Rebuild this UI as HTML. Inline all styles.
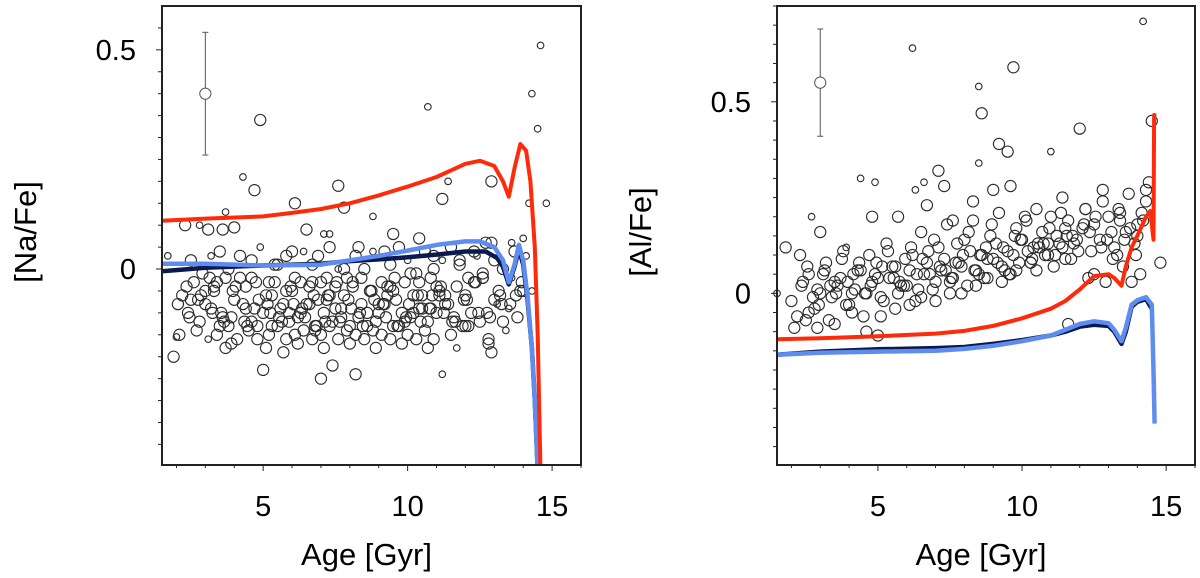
<!DOCTYPE html>
<html><head><meta charset="utf-8"><style>
html,body{margin:0;padding:0;background:#fff;}
svg{display:block;font-family:"Liberation Sans",Arial,sans-serif;}
</style></head><body>
<svg id="c" width="1200" height="578" viewBox="0 0 1200 578"></svg>
<script>
// ---------- data ----------
const xTicks=[5,10,15];
const naTickVals=[0,0.5];
const alTickVals=[0,0.5];
// model curves (left: Na)
const naRedAge=[1.5,3,5,6,7,8,9,10,11,11.5,12,12.5,13,13.3,13.5,13.7,13.9,14.1,14.25,14.4,14.5,14.6];
const naRedVal=[0.11,0.115,0.12,0.128,0.137,0.15,0.168,0.188,0.21,0.225,0.24,0.247,0.235,0.2,0.165,0.23,0.285,0.27,0.2,0.05,-0.15,-0.46];
const naBlueAge=[1.5,3,5,7,8,9,10,11,12,12.5,13,13.3,13.5,13.7,13.85,14.0,14.15,14.3,14.4,14.5];
const naBlueVal=[0.012,0.012,0.008,0.01,0.02,0.03,0.042,0.055,0.063,0.063,0.05,0.02,-0.03,0.01,0.055,0.02,-0.06,-0.18,-0.3,-0.46];
const naNavyAge=[1.5,3,5,7,8,9,10,11,12,12.7,13.1,13.3,13.5,13.7,13.85,14.0,14.15,14.3,14.4,14.5];
const naNavyVal=[-0.005,0.003,0.008,0.012,0.018,0.022,0.027,0.033,0.04,0.04,0.025,0.005,-0.035,0.005,0.045,0.01,-0.07,-0.18,-0.3,-0.46];
// model curves (right: Al)
const alRedAge=[1.5,3,5,7,8,9,10,11,11.5,12,12.5,13,13.2,13.45,13.6,13.8,14.0,14.3,14.45,14.56,14.58,14.6];
const alRedVal=[-0.12,-0.117,-0.112,-0.105,-0.098,-0.085,-0.065,-0.04,-0.02,0.01,0.045,0.05,0.04,0.02,0.07,0.12,0.15,0.2,0.215,0.14,0.46,0.47];
const alBlueAge=[1.5,3,5,7,8,9,10,11,11.5,12,12.5,13,13.2,13.45,13.6,13.8,14.0,14.3,14.5,14.56,14.6];
const alBlueVal=[-0.16,-0.155,-0.152,-0.15,-0.145,-0.137,-0.125,-0.11,-0.095,-0.08,-0.073,-0.078,-0.095,-0.125,-0.09,-0.03,-0.018,-0.01,-0.03,-0.2,-0.34];
const alNavyAge=[1.5,3,5,7,8,9,10,11,11.5,12,12.5,13,13.2,13.45,13.6,13.8,14.0,14.3,14.5];
const alNavyVal=[-0.16,-0.152,-0.146,-0.143,-0.14,-0.132,-0.122,-0.11,-0.1,-0.087,-0.082,-0.085,-0.1,-0.132,-0.1,-0.035,-0.022,-0.015,-0.04];
// error bars [age, value, lo, hi]
const naErr=[3.0,0.40,0.26,0.54];
const alErr=[3.0,0.55,0.41,0.69];
// stars: age, value, size (1 big, 0 small)
const naAge=[14.6,14.3,14.5,10.7,4.9,11.4,12.9,11.2,4.3,4.7,7.6,6.1,7.8,14.2,14.8,8.8,3.7,2.3,2.8,3.1,3.6,4.0,7.1,7.3,6.5,9.5,10.4,12.9,13.6,14.0,
1.9,2.0,3.7,3.9,5.0,7.0,7.4,8.2,11.2,12.9,12.8,11.7,
1.7,2.5,2.9,3.2,3.5,3.8,4.2,4.6,4.9,5.2,5.5,5.8,6.1,6.4,6.7,7.0,7.3,7.6,7.9,8.2,8.5,8.8,9.1,9.4,9.7,10.0,10.3,10.6,10.9,11.2,11.5,11.8,12.1,12.4,12.7,13.0,13.3,13.7,14.1,
2.2,2.6,3.0,3.3,3.7,4.0,4.4,4.7,5.1,5.4,5.7,6.0,6.3,6.6,6.9,7.2,7.5,7.8,8.1,8.4,8.7,9.0,9.3,9.6,9.9,10.2,10.5,10.8,11.1,11.4,11.7,12.0,12.3,12.6,13.2,13.6,14.0,
2.4,2.8,3.2,3.5,3.9,4.3,4.6,5.0,5.3,5.6,5.9,6.2,6.5,6.8,7.1,7.4,7.7,8.0,8.3,8.6,8.9,9.2,9.5,9.8,10.1,10.4,10.7,11.0,11.3,11.6,12.2,12.5,13.0,13.5,13.9,
2.1,2.7,3.1,3.4,3.8,4.1,4.5,4.8,5.2,5.5,5.8,6.1,6.4,6.7,7.0,7.3,7.6,7.9,8.2,8.5,8.8,9.1,9.4,9.7,10.0,10.3,10.6,10.9,11.5,12.0,12.8,13.4,
2.5,3.0,3.6,4.2,4.8,5.3,5.9,6.3,6.8,7.2,7.7,8.1,8.6,9.0,9.5,9.9,10.4,10.8,11.3,12.1,12.6,13.1,13.8,
3.3,4.4,5.1,5.7,6.2,6.6,7.1,7.5,8.0,8.4,8.9,9.3,9.8,10.2,10.7,11.1,11.9,13.3,14.3,
2.35,2.75,3.15,3.55,3.95,4.35,4.75,5.15,5.55,5.95,6.35,6.75,7.15,7.55,7.95,8.35,8.75,9.15,9.55,9.95,10.35,10.75,11.15,11.55,11.95,12.35,12.75,13.15,13.55,13.95,
2.05,2.45,2.85,3.25,3.65,4.05,4.45,4.85,5.25,5.65,6.05,6.45,6.85,7.25,7.65,8.05,8.45,8.85,9.25,9.65,10.05,10.45,10.85,11.25,11.65,12.05,12.45,12.85,13.25,13.75,
4.6,5.4,6.0,6.9,7.8,8.3,9.2,10.1,10.9,11.8,12.3,3.4,5.8,6.7,7.3,8.7,9.4,10.5,11.0,12.6];
const naVal=[0.51,0.40,0.32,0.37,0.34,0.20,0.20,0.16,0.21,0.18,0.19,0.15,0.14,0.15,0.15,0.12,0.13,0.10,0.10,0.09,0.09,0.095,0.08,0.08,0.09,0.08,0.07,0.06,0.06,0.07,
-0.20,-0.155,-0.18,-0.17,-0.23,-0.25,-0.22,-0.24,-0.24,-0.19,-0.16,-0.18,
0.03,0.02,-0.01,0.03,0.04,0.0,0.03,-0.02,0.05,-0.03,0.01,0.03,-0.02,0.04,0.01,-0.03,0.05,0.0,-0.02,0.03,0.0,0.04,-0.03,0.01,0.05,0.02,-0.01,0.04,0.0,0.02,0.05,0.01,-0.02,0.03,0.06,0.02,0.0,0.04,0.03,
-0.06,-0.03,-0.08,-0.05,-0.02,-0.07,-0.04,-0.09,-0.06,-0.03,-0.08,-0.05,-0.1,-0.04,-0.07,-0.02,-0.09,-0.06,-0.03,-0.08,-0.05,-0.1,-0.04,-0.07,-0.03,-0.06,-0.09,-0.02,-0.05,-0.08,-0.04,-0.06,-0.03,-0.01,-0.06,-0.02,-0.05,
-0.1,-0.12,-0.09,-0.13,-0.11,-0.08,-0.12,-0.1,-0.13,-0.09,-0.12,-0.11,-0.08,-0.13,-0.1,-0.12,-0.09,-0.13,-0.11,-0.1,-0.12,-0.08,-0.13,-0.1,-0.11,-0.09,-0.12,-0.1,-0.08,-0.11,-0.1,-0.12,-0.07,-0.09,-0.05,
-0.15,-0.14,-0.16,-0.15,-0.13,-0.16,-0.14,-0.16,-0.15,-0.13,-0.16,-0.15,-0.14,-0.16,-0.15,-0.13,-0.16,-0.14,-0.15,-0.16,-0.14,-0.15,-0.16,-0.13,-0.15,-0.16,-0.14,-0.16,-0.15,-0.13,-0.17,-0.14,
-0.07,-0.05,-0.11,-0.02,-0.13,-0.06,-0.1,-0.03,-0.14,-0.07,-0.11,-0.04,-0.13,-0.08,-0.05,-0.12,-0.03,-0.09,-0.06,-0.13,-0.02,-0.08,-0.11,
-0.04,-0.09,-0.18,-0.19,-0.17,-0.08,-0.18,-0.04,-0.17,-0.02,-0.18,-0.06,-0.17,-0.1,-0.18,-0.06,-0.13,-0.12,-0.05,
-0.04,-0.07,-0.02,-0.1,-0.05,-0.12,-0.03,-0.08,-0.11,-0.04,-0.09,-0.06,-0.12,-0.03,-0.07,-0.1,-0.05,-0.08,-0.02,-0.11,-0.06,-0.09,-0.04,-0.12,-0.07,-0.03,-0.1,-0.05,-0.08,-0.03,
-0.08,-0.11,-0.06,-0.1,-0.12,-0.04,-0.13,-0.07,-0.1,-0.12,-0.08,-0.11,-0.13,-0.06,-0.12,-0.09,-0.13,-0.07,-0.11,-0.13,-0.08,-0.12,-0.06,-0.1,-0.12,-0.07,-0.1,-0.11,-0.08,-0.06,
0.02,0.01,0.04,0.03,0.0,0.05,0.04,-0.01,0.03,0.02,0.04,-0.03,-0.05,-0.03,-0.06,-0.05,-0.04,-0.06,-0.04,-0.02];
const naSize=[0,0,0,0,1,0,1,1,0,1,1,1,1,0,0,0,0,1,0,1,1,1,0,0,1,1,1,1,0,0,
1,0,1,1,1,1,1,1,0,1,1,0,
0,1,1,0,1,1,1,1,0,1,1,1,1,0,1,1,1,0,1,1,1,0,1,1,1,0,1,1,1,0,1,1,1,0,1,1,1,1,0,
1,1,1,1,1,1,1,1,1,1,1,1,1,1,1,1,1,1,1,1,1,1,1,1,1,1,1,1,1,1,1,1,1,1,1,0,1,
1,1,1,1,1,1,1,1,1,1,1,1,1,1,1,1,1,1,1,1,1,1,1,1,1,1,1,1,1,1,1,1,1,0,1,
1,1,0,1,1,1,1,1,1,1,1,1,1,1,1,1,1,1,1,1,1,1,1,1,1,1,1,1,1,1,1,0,
1,1,1,1,1,1,1,1,1,1,1,1,1,1,1,1,1,1,1,1,1,0,1,
1,1,1,1,1,1,1,1,1,1,1,1,1,1,1,1,1,1,0,
1,1,1,1,1,1,1,1,1,1,1,1,1,1,1,1,1,1,1,1,1,1,1,1,1,1,1,1,1,1,
1,1,1,1,1,1,1,1,1,1,1,1,1,1,1,1,1,1,1,1,1,1,1,1,1,1,1,1,1,1,
1,1,1,1,1,1,1,1,1,1,1,1,1,1,1,1,1,1,1,1];
const alAge=[14.2,6.2,9.7,8.5,8.6,12.0,9.2,9.5,11.0,8.5,14.5,14.4,2.7,4.4,4.9,6.3,6.6,7.1,7.3,14.3,
1.5,1.8,2.3,2.6,2.9,3.2,3.5,3.8,4.1,4.4,4.7,5.0,5.3,5.6,5.9,6.2,6.5,6.8,7.1,7.4,7.7,8.0,8.3,8.6,8.9,9.2,9.5,9.8,10.1,10.4,10.7,11.0,11.3,11.6,11.9,12.2,12.5,12.8,13.1,13.4,13.7,14.0,14.3,14.8,
2.0,2.4,2.8,3.1,3.4,3.7,4.0,4.3,4.6,4.9,5.2,5.5,5.8,6.1,6.4,6.7,7.0,7.3,7.6,7.9,8.2,8.5,8.8,9.1,9.4,9.7,10.0,10.3,10.6,10.9,11.2,11.5,11.8,12.1,12.4,12.7,13.0,13.3,13.6,13.9,14.2,
2.2,2.6,3.0,3.3,3.6,3.9,4.2,4.5,4.8,5.1,5.4,5.7,6.0,6.3,6.6,6.9,7.2,7.5,7.8,8.1,8.4,8.7,9.0,9.3,9.6,9.9,10.2,10.5,10.8,11.1,11.4,11.7,12.3,12.9,13.5,14.1,
2.1,2.5,2.9,3.5,4.1,4.6,5.1,5.6,6.1,6.5,7.0,7.5,7.9,8.4,8.8,9.3,9.8,10.3,10.9,11.5,12.2,12.8,13.4,14.0,
3.0,3.9,4.8,5.7,6.7,7.6,8.3,9.0,9.6,10.5,11.4,12.5,13.2,13.8,11.6,5.0,
2.35,2.75,3.15,3.55,3.95,4.35,4.75,5.15,5.55,5.95,6.35,6.75,7.15,7.55,7.95,8.35,8.75,9.15,9.55,9.95,10.35,10.75,11.15,11.55,11.95,12.35,12.75,13.15,13.55,13.95,
2.55,2.95,3.35,3.75,4.15,4.55,4.95,5.35,5.75,6.15,6.55,6.95,7.35,7.75,8.15,8.55,8.95,9.35,9.75,10.15,10.55,10.95,11.35,11.75,12.15,12.55,12.95,13.35,13.75,14.15];
const alVal=[0.71,0.64,0.59,0.54,0.47,0.43,0.39,0.37,0.37,0.34,0.45,0.29,0.20,0.30,0.29,0.27,0.29,0.32,0.28,0.27,
0.0,0.12,0.1,0.05,0.01,0.08,0.03,0.11,0.0,0.06,0.1,0.04,0.13,0.07,0.02,0.1,0.16,0.05,0.12,0.18,0.08,0.14,0.19,0.1,0.15,0.21,0.11,0.17,0.2,0.12,0.16,0.2,0.13,0.19,0.14,0.22,0.18,0.24,0.16,0.21,0.26,0.18,0.24,0.08,
-0.02,0.03,-0.04,0.05,-0.01,0.04,-0.03,0.06,0.0,0.05,-0.02,0.07,0.02,0.06,0.01,0.08,0.03,0.09,0.04,0.07,0.11,0.05,0.09,0.13,0.06,0.1,0.14,0.08,0.12,0.1,0.15,0.09,0.13,0.17,0.11,0.14,0.2,0.1,0.16,0.13,0.19,
-0.06,-0.05,0.0,-0.07,0.02,-0.03,0.01,-0.06,0.03,-0.01,0.04,0.0,0.02,-0.02,0.05,0.01,0.06,0.03,0.08,0.02,0.06,0.04,0.09,0.07,0.05,0.08,0.11,0.06,0.1,0.07,0.12,0.09,0.04,0.03,0.07,0.05,
-0.09,-0.07,-0.09,-0.08,-0.05,-0.1,-0.06,-0.04,-0.03,-0.01,-0.02,0.0,0.0,0.02,0.04,0.03,0.06,0.08,0.13,0.17,0.22,0.27,0.19,0.15,
0.16,0.12,0.2,0.2,0.23,0.19,0.24,0.27,0.28,0.22,0.25,0.05,0.12,0.03,-0.08,-0.11,
0.02,-0.01,0.06,0.0,0.03,0.08,0.02,0.07,0.04,0.09,0.05,0.11,0.07,0.04,0.1,0.06,0.12,0.08,0.05,0.14,0.09,0.13,0.1,0.15,0.11,0.16,0.12,0.09,0.14,0.1,
0.07,-0.03,0.02,0.09,0.05,0.0,0.08,0.11,0.03,0.12,0.09,0.14,0.06,0.13,0.16,0.1,0.18,0.12,0.15,0.19,0.13,0.17,0.21,0.15,0.18,0.2,0.14,0.22,0.17,0.21];
const alSize=[0,0,1,0,1,1,1,1,0,0,1,1,0,0,0,0,0,1,1,1,
0,1,1,1,1,1,1,1,1,1,1,1,1,1,1,1,1,1,1,1,1,1,1,1,1,1,1,1,1,1,1,1,1,1,1,1,1,1,1,1,1,1,1,1,
1,1,1,1,1,1,1,1,1,1,1,1,1,1,1,1,1,1,1,1,1,1,1,1,1,1,1,1,1,1,1,1,1,1,1,1,1,1,1,1,1,
1,1,1,1,1,1,1,1,1,1,1,1,1,1,1,1,1,1,1,1,1,1,1,1,1,1,1,1,1,1,1,1,1,1,1,1,
1,1,1,1,1,1,1,1,1,1,1,1,1,1,1,1,1,1,1,1,1,1,1,1,
1,0,1,1,1,1,1,1,1,1,1,1,1,1,1,1,
1,1,1,1,1,1,1,1,1,1,1,1,1,1,1,1,1,1,1,1,1,1,1,1,1,1,1,1,1,1,
1,1,1,1,1,1,1,1,1,1,1,1,1,1,1,1,1,1,1,1,1,1,1,1,1,1,1,1,1,1];

// ---------- drawing ----------
const NS='http://www.w3.org/2000/svg';
const svg=document.getElementById('c');
function mk(tag,attrs,parent){const e=document.createElementNS(NS,tag);for(const k in attrs)e.setAttribute(k,attrs[k]);(parent||svg).appendChild(e);return e;}

function panel(cfg){
  const g=mk('g',{});
  
  
  const X=a=>cfg.x0+(a-1.5)/(16-1.5)*(cfg.x1-cfg.x0);
  const Y=v=>cfg.y1-(v-cfg.ymin)/(cfg.ymax-cfg.ymin)*(cfg.y1-cfg.y0);
  const sg=mk('g',{},g);
  
  
  for(let i=0;i<cfg.age.length;i++){
    const c=mk('circle',{cx:X(cfg.age[i]),cy:Y(cfg.val[i]),r:cfg.size[i]?5.6:3.3,fill:'none',stroke:'#2a2a2a','stroke-width':1.1},sg);
    
    
  }
  const e=cfg.err, eg=mk('g',{stroke:'#555','stroke-width':1,fill:'none'},g);
  
  
  mk('line',{x1:X(e[0]),x2:X(e[0]),y1:Y(e[2]),y2:Y(e[3])},eg);
  mk('line',{x1:X(e[0])-3,x2:X(e[0])+3,y1:Y(e[2]),y2:Y(e[2])},eg);
  mk('line',{x1:X(e[0])-3,x2:X(e[0])+3,y1:Y(e[3]),y2:Y(e[3])},eg);
  mk('circle',{cx:X(e[0]),cy:Y(e[1]),r:5.6,fill:'#fff'},eg);
  const cid='clip'+cfg.name;
  const cp=mk('clipPath',{id:cid},g);mk('rect',{x:cfg.x0,y:cfg.y0,width:cfg.x1-cfg.x0,height:cfg.y1-cfg.y0},cp);
  const lg=mk('g',{'clip-path':'url(#'+cid+')'},g);
  cfg.lines.forEach(L=>{
    const d=L.a.map((a,i)=>(i?'L':'M')+X(a).toFixed(1)+','+Y(L.v[i]).toFixed(1)).join('');
    const p=mk('path',{d:d,fill:'none',stroke:L.c,'stroke-width':L.w,'stroke-linejoin':'round'},lg);
    
    
  });
  const fr=mk('rect',{x:cfg.x0,y:cfg.y0,width:cfg.x1-cfg.x0,height:cfg.y1-cfg.y0,fill:'none',stroke:'#222','stroke-width':2},g);
  
  
  const ax=mk('g',{stroke:'#222','stroke-width':1},g);
  
  
  for(let a=2;a<=16;a++){const big=xTicks.includes(a);mk('line',{x1:X(a),x2:X(a),y1:cfg.y1,y2:cfg.y1+(big?6:3)},ax);}
  xTicks.forEach(t=>{const tx=mk('text',{x:X(t),y:cfg.y1+51,'text-anchor':'middle','font-size':29,fill:'#000',stroke:'none'},g);tx.textContent=t;
    
    });
  const ay=mk('g',{stroke:'#222','stroke-width':1},g);
  
  
  for(let k=Math.ceil(cfg.ymin/0.05);k*0.05<=cfg.ymax;k++){const v=k*0.05;const big=Math.abs(v-Math.round(v*2)/2)<1e-6;mk('line',{x1:cfg.x0,x2:cfg.x0-(big?6:4),y1:Y(v),y2:Y(v)},ay);}
  cfg.yt.forEach(t=>{const tx=mk('text',{x:cfg.x0-26,y:Y(t)+10,'text-anchor':'end','font-size':29,fill:'#000'},g);tx.textContent=t===0?'0':String(t);
    
    });
  const xt=mk('text',{x:(cfg.x0+cfg.x1)/2-5,y:565,'text-anchor':'middle','font-size':31,fill:'#000'},g);xt.textContent='Age [Gyr]';
  
  
  const yx=cfg.x0-126,yy=232;
  const yt=mk('text',{x:yx,y:yy,'text-anchor':'middle','font-size':31,fill:'#000',transform:'rotate(-90 '+yx+' '+yy+')'},g);yt.textContent=cfg.ytitle;
  
  
}
const RED='#ff2a0a',BLUE='#5f8cef',NAVY='#0b1a4d';
panel({name:'na-panel',x0:162,x1:581,y0:6,y1:465,ymin:-0.447,ymax:0.6,yt:naTickVals,ytitle:'[Na/Fe]',
  age:naAge,val:naVal,size:naSize,err:naErr,
  lines:[{a:naNavyAge,v:naNavyVal,c:NAVY,w:4.5,n:'navy-model-line'},{a:naBlueAge,v:naBlueVal,c:BLUE,w:4.5,n:'blue-model-line'},{a:naRedAge,v:naRedVal,c:RED,w:4,n:'red-model-line'}]});
panel({name:'al-panel',x0:777,x1:1195,y0:6,y1:465,ymin:-0.448,ymax:0.75,yt:alTickVals,ytitle:'[Al/Fe]',
  age:alAge,val:alVal,size:alSize,err:alErr,
  lines:[{a:alNavyAge,v:alNavyVal,c:NAVY,w:4.5,n:'navy-model-line'},{a:alBlueAge,v:alBlueVal,c:BLUE,w:4.5,n:'blue-model-line'},{a:alRedAge,v:alRedVal,c:RED,w:4,n:'red-model-line'}]});
</script>
</body></html>
